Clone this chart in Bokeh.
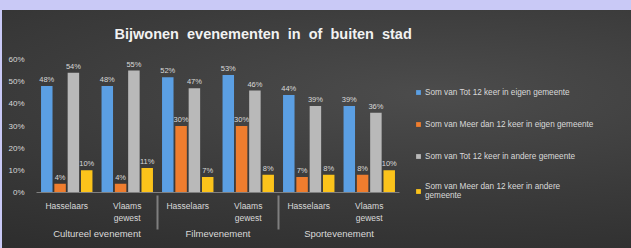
from bokeh.plotting import figure
from bokeh.models import FactorRange, ColumnDataSource, Legend, LegendItem, NumeralTickFormatter
from bokeh.transform import dodge
from bokeh.embed import file_html
from bokeh.resources import INLINE
from bokeh.core.properties import value

NB = "\u00a0"
title_words = ["Bijwonen", "evenementen", "in", "of", "buiten", "stad"]
groups = ["Cultureel evenement", "Filmevenement", "Sportevenement"]
subs = ["Hasselaars", "Vlaams\ngewest"]
series_names = [
    "Som van Tot 12 keer in eigen gemeente",
    "Som van Meer dan 12 keer in eigen gemeente",
    "Som van Tot 12 keer in andere gemeente",
    "Som van Meer dan 12 keer in andere\ngemeente",
]
blue_vals = [0.48, 0.48, 0.52, 0.53, 0.44, 0.39]
orange_vals = [0.04, 0.04, 0.30, 0.30, 0.07, 0.08]
gray_vals = [0.54, 0.55, 0.47, 0.46, 0.39, 0.36]
yellow_vals = [0.10, 0.11, 0.07, 0.08, 0.08, 0.10]
y_ticks = [0, 0.1, 0.2, 0.3, 0.4, 0.5, 0.6]

colors = ["#5b9fe3", "#ef7d2e", "#b9b9b9", "#fbc31b"]
offsets = [-0.33, -0.11, 0.11, 0.33]
FONT = "Liberation Sans"
TXT = "#d9d9d9"

x = [(g, s) for g in groups for s in subs]
series = [blue_vals, orange_vals, gray_vals, yellow_vals]

p = figure(
    frame_width=363, frame_height=133,
    x_range=FactorRange(*x, factor_padding=0, group_padding=0, range_padding=0),
    y_range=(0, 0.6),
    output_backend="svg", toolbar_location=None,
    min_border_left=34, min_border_right=231, min_border_top=47, min_border_bottom=58,
)
p.border_fill_alpha = 0
p.background_fill_alpha = 0
p.outline_line_color = None
p.styles = {"background": "radial-gradient(ellipse at 40% 35%, #4c4c4c 0%, #3b3b3b 45%, #282828 100%)"}

p.title.text = (" " + NB).join(title_words)
p.title.text_color = "#f2f2f2"
p.title.text_font = FONT
p.title.text_font_size = "14.5px"
p.title.text_font_style = "bold"
p.title.align = "left"
p.title.vertical_align = "top"
p.title.offset = 78
p.title.standoff = 31

renderers = []
for vals, col, off in zip(series, colors, offsets):
    src = ColumnDataSource(dict(x=x, top=vals, lab=[f"{v*100:.0f}%" for v in vals]))
    r = p.vbar(x=dodge("x", off, range=p.x_range), top="top", width=0.19, source=src,
               fill_color=col, line_color=None)
    renderers.append(r)
    p.text(x=dodge("x", off, range=p.x_range), y="top", text="lab", source=src,
           text_color=TXT, text_font=value(FONT), text_font_size="7.5px",
           text_align="center", text_baseline="bottom", y_offset=-2)

items = [LegendItem(label=n, renderers=[r]) for n, r in zip(series_names, renderers)]
legend = Legend(items=items, location=(16, -8))
legend.background_fill_alpha = 0
legend.border_line_color = None
legend.label_text_color = TXT
legend.label_text_font = FONT
legend.label_text_font_size = "8.2px"
legend.glyph_width = 6
legend.glyph_height = 6
legend.label_height = 12
legend.spacing = 20
legend.padding = 0
legend.margin = 0
legend.label_standoff = 4
p.add_layout(legend, "right")

p.xgrid.grid_line_color = None
p.ygrid.grid_line_color = None

p.yaxis.ticker = y_ticks
p.yaxis.formatter = NumeralTickFormatter(format="0%")
p.yaxis.axis_line_color = None
p.yaxis.major_tick_line_color = None
p.yaxis.minor_tick_line_color = None
p.yaxis.major_label_text_color = TXT
p.yaxis.major_label_text_font = FONT
p.yaxis.major_label_text_font_size = "8px"
p.yaxis.major_label_standoff = 6

p.xaxis.axis_line_color = "#7f7f7f"
p.xaxis.major_tick_line_color = None
p.xaxis.major_label_text_color = TXT
p.xaxis.major_label_text_font = FONT
p.xaxis.major_label_text_font_size = "8.5px"
p.xaxis.major_label_standoff = 2
p.xaxis.group_text_color = TXT
p.xaxis.group_text_font = FONT
p.xaxis.group_text_font_size = "9.5px"
p.xaxis.group_text_font_style = "normal"
p.xaxis.separator_line_color = "#7f7f7f"
p.xaxis.major_label_orientation = "horizontal"

html = file_html(p, INLINE)
html = html.replace(
    "</head>",
    "<style>html{background:#c9c9f6;}body{padding:10px 0 0 2px !important;overflow:hidden;}</style></head>", 1)
open("out.html", "w").write(html)
